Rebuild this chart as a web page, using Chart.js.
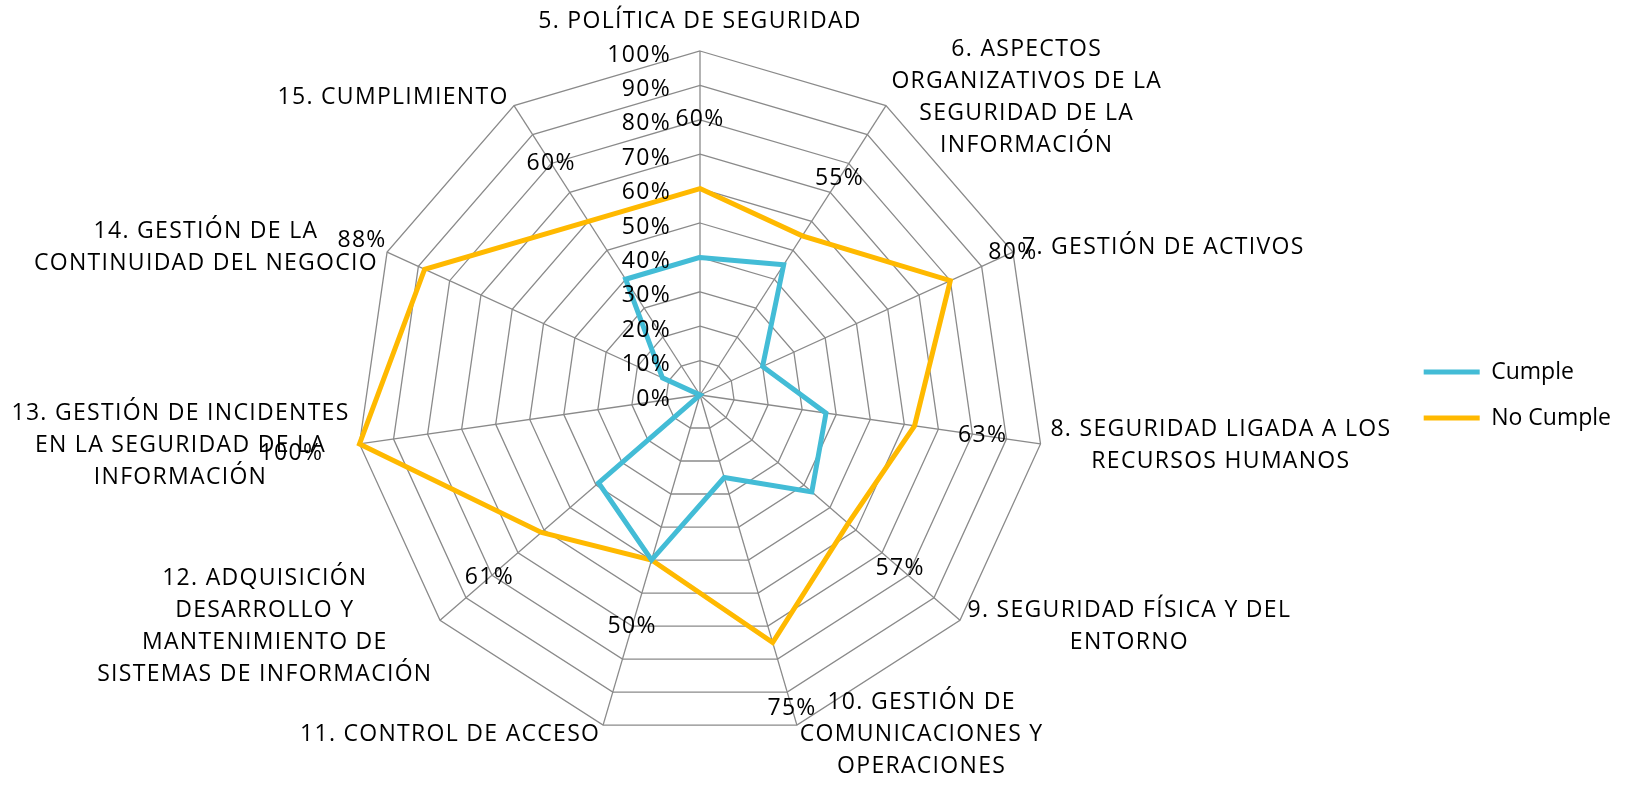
<!DOCTYPE html>
<html>
<head>
<meta charset="utf-8">
<script src="https://cdn.jsdelivr.net/npm/chart.js@4.4.1/dist/chart.umd.min.js"></script>
<style>
  html, body { margin: 0; padding: 0; background: #fff; }
  #wrap { width: 1635px; height: 785px; }
</style>
</head>
<body>
<div id="wrap"><canvas id="radar" width="1635" height="785"></canvas></div>
<script>
const categories = [
    ['5. POLÍTICA DE SEGURIDAD'],
    ['6. ASPECTOS', 'ORGANIZATIVOS DE LA', 'SEGURIDAD DE LA', 'INFORMACIÓN'],
    ['7. GESTIÓN DE ACTIVOS'],
    ['8. SEGURIDAD LIGADA A LOS', 'RECURSOS HUMANOS'],
    ['9. SEGURIDAD FÍSICA Y DEL', 'ENTORNO'],
    ['10. GESTIÓN DE', 'COMUNICACIONES Y', 'OPERACIONES'],
    ['11. CONTROL DE ACCESO'],
    ['12. ADQUISICIÓN', 'DESARROLLO Y', 'MANTENIMIENTO DE', 'SISTEMAS DE INFORMACIÓN'],
    ['13. GESTIÓN DE INCIDENTES', 'EN LA SEGURIDAD DE LA', 'INFORMACIÓN'],
    ['14. GESTIÓN DE LA', 'CONTINUIDAD DEL NEGOCIO'],
    ['15. CUMPLIMIENTO']
];
const cumple = [40, 45, 20, 37, 43, 25, 50, 39, 0, 12, 40];
const noCumple = [60, 55, 80, 63, 57, 75, 50, 61, 100, 88, 60];
const tickLabels = ['0%', '10%', '20%', '30%', '40%', '50%', '60%', '70%', '80%', '90%', '100%'];

const FONT = "'Open Sans', 'DejaVu Sans', sans-serif";
const TEXT_SIZE = 23;
const LINE_H = 32;

// axis names, tick labels and the "No Cumple" value labels, drawn Excel-style
const radarText = {
    id: 'radarText',
    afterDraw(chart) {
        const ctx = chart.ctx;
        const scale = chart.scales.r;
        const R = scale.drawingArea;
        ctx.save();
        ctx.fillStyle = '#000';
        ctx.font = `${TEXT_SIZE}px ${FONT}`;
        ctx.letterSpacing = '1.3px';
        ctx.textBaseline = 'middle';

        // tick labels, right aligned left of the vertical axis
        ctx.textAlign = 'right';
        scale.ticks.forEach((t, i) => {
            const y = scale.yCenter - scale.getDistanceFromCenterForValue(t.value);
            ctx.fillText(tickLabels[i], scale.xCenter - 29, y + 4);
        });

        // category labels
        ctx.textAlign = 'center';
        categories.forEach((lines, i) => {
            const p = scale.getPointPosition(i, R + 10);
            const dx = p.x - scale.xCenter;
            const w = Math.max(...lines.map(l => ctx.measureText(l).width));
            const h = lines.length * LINE_H;
            let left, top;
            if (Math.abs(dx) < 5) {
                left = p.x - w / 2;
                top = p.y - h - 4;
            } else {
                left = dx > 0 ? p.x : p.x - w;
                top = p.y - h / 2;
            }
            lines.forEach((l, k) => ctx.fillText(l, left + w / 2, top + LINE_H * (k + 0.5)));
        });

        // data labels of the second series
        noCumple.forEach((v, i) => {
            const p = scale.getPointPosition(i, scale.getDistanceFromCenterForValue(v) + R * 0.2);
            ctx.fillText(v + '%', p.x, p.y);
        });
        ctx.restore();
    }
};

new Chart(document.getElementById('radar'), {
    type: 'radar',
    data: {
        labels: categories,
        datasets: [{
            label: 'Cumple',
            data: cumple,
            borderColor: '#43BCD6',
            backgroundColor: 'transparent',
            borderWidth: 5,
            borderCapStyle: 'round',
            pointRadius: 0,
            fill: false
        }, {
            label: 'No Cumple',
            data: noCumple,
            borderColor: '#FFB900',
            backgroundColor: 'transparent',
            borderWidth: 5,
            borderCapStyle: 'round',
            pointRadius: 0,
            fill: false
        }]
    },
    options: {
        responsive: false,
        animation: false,
        devicePixelRatio: 1,
        layout: { padding: { top: 51, bottom: 46, left: 0, right: 14 } },
        elements: { line: { tension: 0 } },
        scales: {
            r: {
                min: 0,
                max: 100,
                ticks: { stepSize: 10, display: false },
                grid: { color: '#8a8a8a', lineWidth: 1.3 },
                angleLines: { color: '#8a8a8a', lineWidth: 1.3 },
                pointLabels: { display: false }
            }
        },
        plugins: {
            legend: {
                position: 'right',
                labels: {
                    usePointStyle: true,
                    pointStyle: 'line',
                    pointStyleWidth: 56,
                    padding: 23,
                    color: '#000',
                    font: { family: FONT, size: 23 }
                }
            },
            tooltip: { enabled: false }
        }
    },
    plugins: [radarText]
});
</script>
</body>
</html>
